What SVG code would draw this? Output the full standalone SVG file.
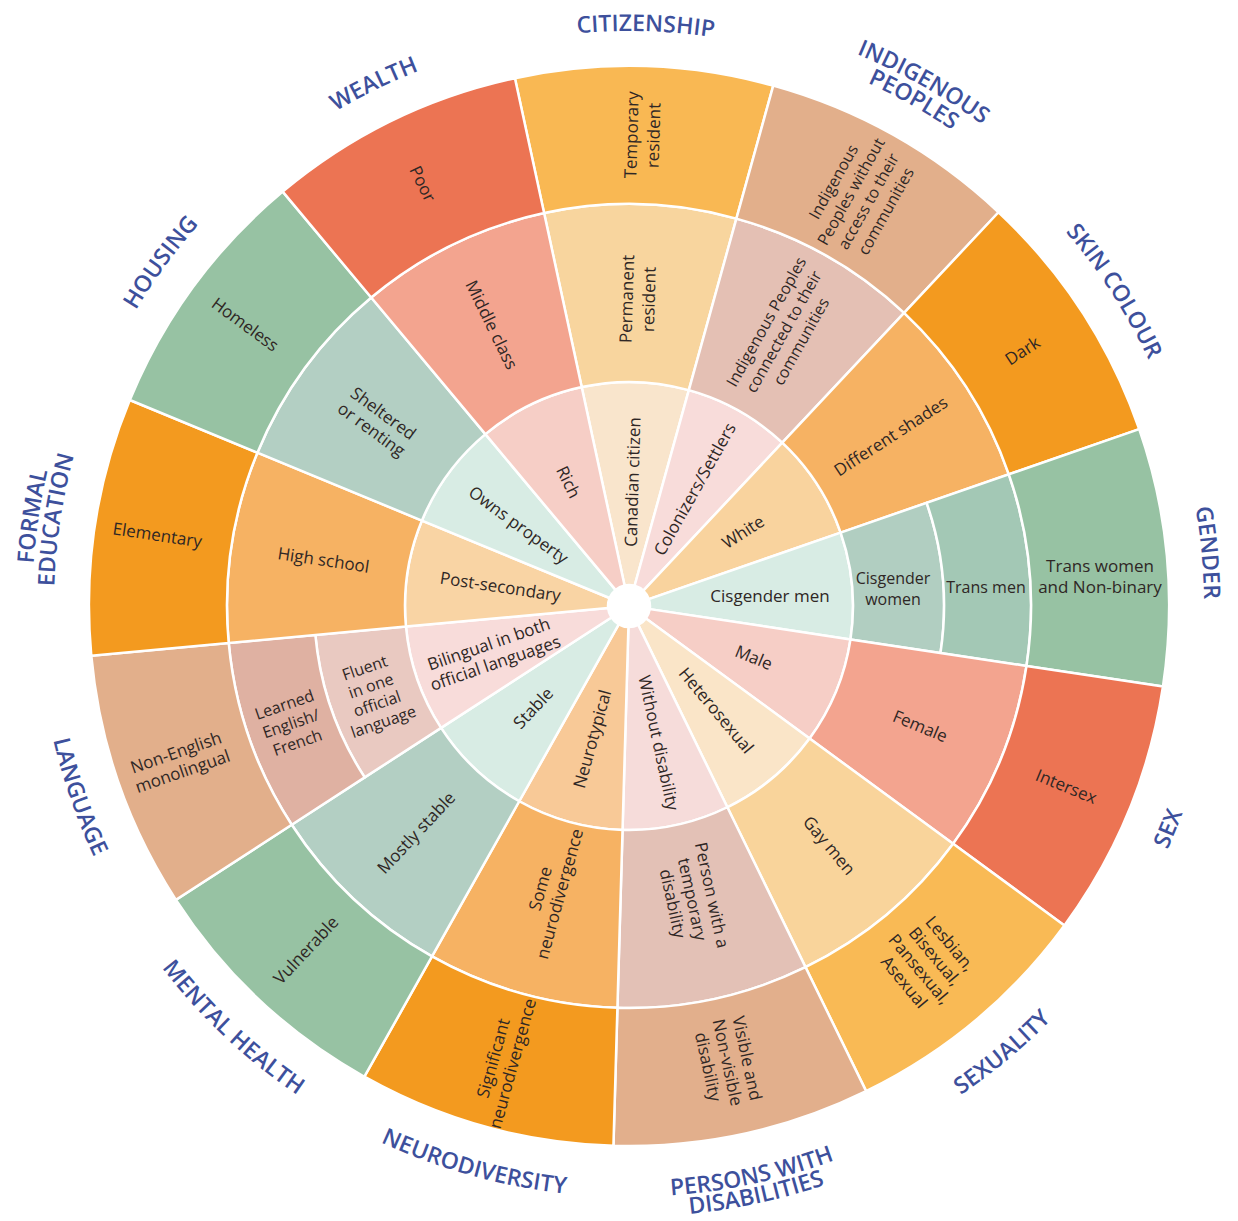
<svg xmlns="http://www.w3.org/2000/svg" width="1238" height="1221" viewBox="0 0 1238 1221">
<style>
.lb{font-family:"Open Sans","Liberation Sans",sans-serif;font-size:17px;fill:#2f2725;text-anchor:middle}
.sm{font-size:16px}
.tt{font-family:"Open Sans","Liberation Sans",sans-serif;font-weight:600;font-size:23px;fill:#3d509c;text-anchor:middle}
</style>
<defs>
<path id="sIn" stroke="#fff" stroke-width="2.5" stroke-linejoin="round" d="M -5.03 -20.39 L -53.61 -217.49 A 224 224 0 0 1 53.61 -217.49 L 5.03 -20.39 A 21 21 0 0 0 -5.03 -20.39 Z"/>
<path id="sMid" stroke="#fff" stroke-width="2.5" stroke-linejoin="round" d="M -53.61 -217.49 L -96.21 -390.32 A 402 402 0 0 1 96.21 -390.32 L 53.61 -217.49 A 224 224 0 0 0 -53.61 -217.49 Z"/>
<path id="sMidA" stroke="#fff" stroke-width="2.5" stroke-linejoin="round" d="M -53.61 -217.49 L -75.39 -305.85 A 315 315 0 0 1 75.39 -305.85 L 53.61 -217.49 A 224 224 0 0 0 -53.61 -217.49 Z"/>
<path id="sMidB" stroke="#fff" stroke-width="2.5" stroke-linejoin="round" d="M -75.39 -305.85 L -96.21 -390.32 A 402 402 0 0 1 96.21 -390.32 L 75.39 -305.85 A 315 315 0 0 0 -75.39 -305.85 Z"/>
<path id="sOut" stroke="#fff" stroke-width="2.5" stroke-linejoin="round" d="M -96.21 -390.32 L -129.23 -524.31 A 540 540 0 0 1 129.23 -524.31 L 96.21 -390.32 A 402 402 0 0 0 -96.21 -390.32 Z"/>
<path id="aT575" d="M 259.4 165.5 A 575 575 0 0 1 998.6 165.5"/>
<path id="aT597" d="M 245.25 148.67 A 597 597 0 0 1 1012.75 148.67"/>
<path id="aB591" d="M 249.1 1058.7 A 591 591 0 0 0 1008.9 1058.7"/>
<path id="aB611" d="M 236.3 1074.1 A 611 611 0 0 0 1021.7 1074.1"/>
</defs>
<rect width="1238" height="1221" fill="#fff"/>

<g id="citizenship" transform="translate(629 606) rotate(1.65)">
 <g id="canadian-citizen"><use href="#sIn" fill="#F9E5CC"/><text class="lb" transform="translate(0 -124) rotate(-90)" y="6">Canadian citizen</text></g>
 <g id="permanent-resident"><use href="#sMid" fill="#F8D59E"/><text class="lb" transform="translate(0 -307) rotate(-90)"><tspan x="0" y="-5">Permanent</tspan><tspan x="0" y="17">resident</tspan></text></g>
 <g id="temporary-resident"><use href="#sOut" fill="#F9B853"/><text class="lb" transform="translate(0 -471) rotate(-90)"><tspan x="0" y="-5">Temporary</tspan><tspan x="0" y="17">resident</tspan></text></g>
</g>

<g id="indigenous" transform="translate(629 606) rotate(29.34)">
 <g id="colonizers-settlers"><use href="#sIn" fill="#F8DCDA"/><text class="lb" transform="translate(0 -134) rotate(-90)" y="6">Colonizers/Settlers</text></g>
 <g id="indigenous-connected"><use href="#sMid" fill="#E4C0B4"/><text class="lb sm" transform="translate(0 -315) rotate(-90)"><tspan x="0" y="-14">Indigenous Peoples</tspan><tspan x="0" y="6">connected to their</tspan><tspan x="0" y="26">communities</tspan></text></g>
 <g id="indigenous-without-access"><use href="#sOut" fill="#E2AF8B"/><text class="lb sm" transform="translate(0 -470) rotate(-90)"><tspan x="0" y="-24">Indigenous</tspan><tspan x="0" y="-4">Peoples without</tspan><tspan x="0" y="16">access to their</tspan><tspan x="0" y="36">communities</tspan></text></g>
</g>

<g id="skin-colour" transform="translate(629 606) rotate(57.03)">
 <g id="white"><use href="#sIn" fill="#F9D39E"/><text class="lb" transform="translate(0 -136) rotate(-90)" y="6">White</text></g>
 <g id="different-shades"><use href="#sMid" fill="#F6B263"/><text class="lb" transform="translate(0 -312) rotate(-90)" y="6">Different shades</text></g>
 <g id="dark"><use href="#sOut" fill="#F39A1F"/><text class="lb" transform="translate(0 -469) rotate(-90)" y="6">Dark</text></g>
</g>

<g id="gender" transform="translate(629 606) rotate(84.73)">
 <g id="cisgender-men"><use href="#sIn" fill="#D8ECE4"/><text class="lb" transform="rotate(-84.73)" x="141" y="-4">Cisgender men</text></g>
 <g id="cisgender-women"><use href="#sMidA" fill="#B1CEC1"/><text class="lb sm" transform="rotate(-84.73)"><tspan x="264" y="-22">Cisgender</tspan><tspan x="264" y="-1">women</tspan></text></g>
 <g id="trans-men"><use href="#sMidB" fill="#A3C8B5"/><text class="lb sm" transform="rotate(-84.73)" x="357" y="-13">Trans men</text></g>
 <g id="trans-women-nonbinary"><use href="#sOut" fill="#97C2A3"/><text class="lb" transform="rotate(-84.73)"><tspan x="471" y="-34">Trans women</tspan><tspan x="471" y="-13">and Non-binary</tspan></text></g>
</g>

<g id="sex" transform="translate(629 606) rotate(112.42)">
 <g id="male"><use href="#sIn" fill="#F6CEC6"/><text class="lb" transform="translate(0 -135) rotate(-90)" y="6">Male</text></g>
 <g id="female"><use href="#sMid" fill="#F3A48F"/><text class="lb" transform="translate(0 -315) rotate(-90)" y="6">Female</text></g>
 <g id="intersex"><use href="#sOut" fill="#EC7453"/><text class="lb" transform="translate(0 -473) rotate(-90)" y="6">Intersex</text></g>
</g>

<g id="sexuality" transform="translate(629 606) rotate(140.11)">
 <g id="heterosexual"><use href="#sIn" fill="#FAE5C8"/><text class="lb" transform="translate(0 -136) rotate(-90)" y="6">Heterosexual</text></g>
 <g id="gay-men"><use href="#sMid" fill="#F9D49B"/><text class="lb" transform="translate(0 -312) rotate(-90)" y="6">Gay men</text></g>
 <g id="lgbpa"><use href="#sOut" fill="#F9BA55"/><text class="lb" transform="translate(0 -465) rotate(-90)"><tspan x="0" y="-24">Lesbian,</tspan><tspan x="0" y="-4">Bisexual,</tspan><tspan x="0" y="16">Pansexual,</tspan><tspan x="0" y="36">Asexual</tspan></text></g>
</g>

<g id="persons-with-disabilities" transform="translate(629 606) rotate(167.8)">
 <g id="without-disability"><use href="#sIn" fill="#F6DCDA"/><text class="lb" transform="translate(0 -140) rotate(-90)" y="6">Without disability</text></g>
 <g id="temporary-disability"><use href="#sMid" fill="#E3C1B6"/><text class="lb" transform="translate(0 -300) rotate(-90)"><tspan x="0" y="-14">Person with a</tspan><tspan x="0" y="6">temporary</tspan><tspan x="0" y="26">disability</tspan></text></g>
 <g id="visible-nonvisible"><use href="#sOut" fill="#E2AF8C"/><text class="lb" transform="translate(0 -467) rotate(-90)"><tspan x="0" y="-14">Visible and</tspan><tspan x="0" y="6">Non-visible</tspan><tspan x="0" y="26">disability</tspan></text></g>
</g>

<g id="neurodiversity" transform="translate(629 606) rotate(195.5)">
 <g id="neurotypical"><use href="#sIn" fill="#F8C997"/><text class="lb" transform="translate(0 -138) rotate(90)" y="6">Neurotypical</text></g>
 <g id="some-neurodivergence"><use href="#sMid" fill="#F6B263"/><text class="lb" transform="translate(0 -296) rotate(90)"><tspan x="0" y="-4">Some</tspan><tspan x="0" y="16">neurodivergence</tspan></text></g>
 <g id="significant-neurodivergence"><use href="#sOut" fill="#F39A1F"/><text class="lb" transform="translate(0 -472) rotate(90)"><tspan x="0" y="-4">Significant</tspan><tspan x="0" y="16">neurodivergence</tspan></text></g>
</g>

<g id="mental-health" transform="translate(629 606) rotate(223.19)">
 <g id="stable"><use href="#sIn" fill="#D8ECE4"/><text class="lb" transform="translate(0 -140) rotate(90)" y="6">Stable</text></g>
 <g id="mostly-stable"><use href="#sMid" fill="#B3CFC3"/><text class="lb" transform="translate(0 -311) rotate(90)" y="6">Mostly stable</text></g>
 <g id="vulnerable"><use href="#sOut" fill="#97C2A3"/><text class="lb" transform="translate(0 -472) rotate(90)" y="6">Vulnerable</text></g>
</g>

<g id="language" transform="translate(629 606) rotate(250.88)">
 <g id="bilingual"><use href="#sIn" fill="#F8DCDA"/><text class="lb" transform="translate(0 -145) rotate(90)"><tspan x="0" y="-4">Bilingual in both</tspan><tspan x="0" y="16">official languages</tspan></text></g>
 <g id="fluent"><use href="#sMidA" fill="#E9C9C1"/><text class="lb sm" transform="translate(0 -270) rotate(90)"><tspan x="0" y="-22.5">Fluent</tspan><tspan x="0" y="-3.5">in one</tspan><tspan x="0" y="15.5">official</tspan><tspan x="0" y="34.5">language</tspan></text></g>
 <g id="learned"><use href="#sMidB" fill="#DFB1A2"/><text class="lb sm" transform="translate(0 -358) rotate(90)"><tspan x="0" y="-14">Learned</tspan><tspan x="0" y="6">English/</tspan><tspan x="0" y="26">French</tspan></text></g>
 <g id="non-english"><use href="#sOut" fill="#E2AF8B"/><text class="lb" transform="translate(0 -476) rotate(90)"><tspan x="0" y="-4">Non-English</tspan><tspan x="0" y="16">monolingual</tspan></text></g>
</g>

<g id="formal-education" transform="translate(629 606) rotate(278.57)">
 <g id="post-secondary"><use href="#sIn" fill="#F9D4A4"/><text class="lb" transform="translate(0 -130) rotate(90)" y="6">Post-secondary</text></g>
 <g id="high-school"><use href="#sMid" fill="#F6B263"/><text class="lb" transform="translate(0 -309) rotate(90)" y="6">High school</text></g>
 <g id="elementary"><use href="#sOut" fill="#F39A1F"/><text class="lb" transform="translate(0 -477) rotate(90)" y="6">Elementary</text></g>
</g>

<g id="housing" transform="translate(629 606) rotate(306.27)">
 <g id="owns-property"><use href="#sIn" fill="#D8ECE4"/><text class="lb" transform="translate(0 -137) rotate(90)" y="6">Owns property</text></g>
 <g id="sheltered"><use href="#sMid" fill="#B3CFC3"/><text class="lb" transform="translate(0 -312) rotate(90)"><tspan x="0" y="-4">Sheltered</tspan><tspan x="0" y="16">or renting</tspan></text></g>
 <g id="homeless"><use href="#sOut" fill="#97C2A3"/><text class="lb" transform="translate(0 -476) rotate(90)" y="6">Homeless</text></g>
</g>

<g id="wealth" transform="translate(629 606) rotate(333.96)">
 <g id="rich"><use href="#sIn" fill="#F6CEC6"/><text class="lb" transform="translate(0 -138) rotate(90)" y="6">Rich</text></g>
 <g id="middle-class"><use href="#sMid" fill="#F3A48F"/><text class="lb" transform="translate(0 -313) rotate(90)" y="6">Middle class</text></g>
 <g id="poor"><use href="#sOut" fill="#EC7453"/><text class="lb" transform="translate(0 -470) rotate(90)" y="6">Poor</text></g>
</g>

<g id="titles">
 <text class="tt" transform="rotate(1.65 629 606)"><textPath href="#aT575" startOffset="50%">CITIZENSHIP</textPath></text>
 <text class="tt" transform="rotate(29.34 629 606)"><textPath href="#aT597" startOffset="50%">INDIGENOUS</textPath></text>
 <text class="tt" transform="rotate(29.34 629 606)"><textPath href="#aT575" startOffset="50%">PEOPLES</textPath></text>
 <text class="tt" transform="rotate(57.03 629 606)"><textPath href="#aT575" startOffset="50%">SKIN COLOUR</textPath></text>
 <text class="tt" transform="rotate(84.73 629 606)"><textPath href="#aT575" startOffset="50%">GENDER</textPath></text>
 <text class="tt" transform="rotate(-67.58 629 606)"><textPath href="#aB591" startOffset="50%">SEX</textPath></text>
 <text class="tt" transform="rotate(-39.89 629 606)"><textPath href="#aB591" startOffset="50%">SEXUALITY</textPath></text>
 <text class="tt" transform="rotate(-12.2 629 606)"><textPath href="#aB591" startOffset="50%">PERSONS WITH</textPath></text>
 <text class="tt" transform="rotate(-12.2 629 606)"><textPath href="#aB611" startOffset="50%">DISABILITIES</textPath></text>
 <text class="tt" transform="rotate(15.5 629 606)"><textPath href="#aB591" startOffset="50%">NEURODIVERSITY</textPath></text>
 <text class="tt" transform="rotate(43.19 629 606)"><textPath href="#aB591" startOffset="50%">MENTAL HEALTH</textPath></text>
 <text class="tt" transform="rotate(70.88 629 606)"><textPath href="#aB591" startOffset="50%">LANGUAGE</textPath></text>
 <text class="tt" transform="rotate(278.57 629 606)"><textPath href="#aT597" startOffset="50%">FORMAL</textPath></text>
 <text class="tt" transform="rotate(278.57 629 606)"><textPath href="#aT575" startOffset="50%">EDUCATION</textPath></text>
 <text class="tt" transform="rotate(306.27 629 606)"><textPath href="#aT575" startOffset="50%">HOUSING</textPath></text>
 <text class="tt" transform="rotate(333.96 629 606)"><textPath href="#aT575" startOffset="50%">WEALTH</textPath></text>
</g>
</svg>
